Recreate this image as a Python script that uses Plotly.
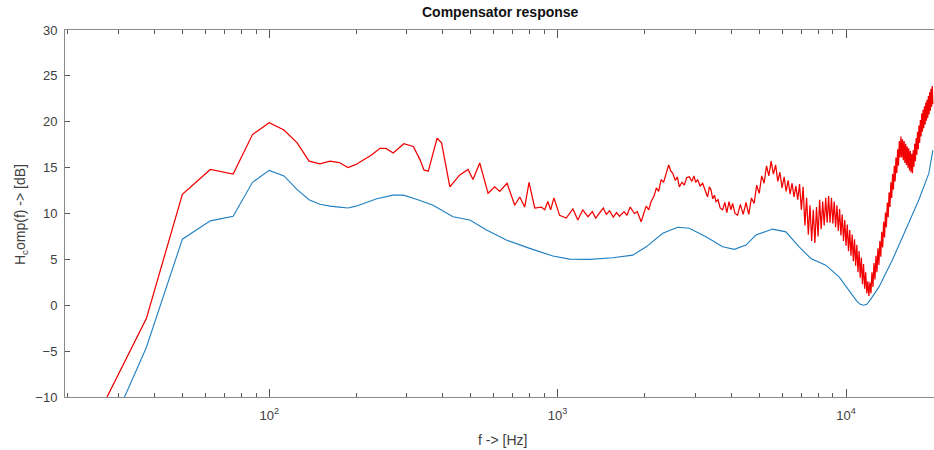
import plotly.graph_objects as go

# ---- smoothed compensator magnitude (Hz, dB) ----
blue_freq = [25, 37.5, 50, 62.5, 75, 87.5, 100, 112.5, 125, 137.5, 150, 162.5, 175, 187.5, 200,
             236, 269, 292, 324, 361, 370, 434, 496, 567, 664, 800, 963, 1100, 1290, 1554, 1822,
             2028, 2315, 2609, 2862, 3269, 3733, 4099, 4498, 4870, 5559, 6184, 6877, 7548,
             8508, 9458, 10515, 10900, 11200, 11500, 11800, 12200, 13010, 14460, 16090, 17890,
             19380, 20000]
blue_db = [-17.2, -4.6, 7.2, 9.2, 9.7, 13.4, 14.7, 14.1, 12.6, 11.5, 11.0, 10.8, 10.7, 10.6, 10.8,
           11.6, 12.0, 12.0, 11.55, 11.04, 10.9, 9.65, 9.29, 8.2, 7.1, 6.2, 5.36, 5.03, 5.0, 5.17, 5.46,
           6.37, 7.84, 8.5, 8.4, 7.46, 6.37, 6.09, 6.56, 7.65, 8.3, 8.0, 6.37, 5.1,
           4.37, 3.1, 1.09, 0.45, 0.1, 0.0, 0.1, 0.7, 2.0, 4.9, 8.2, 11.5,
           14.4, 16.9]

# ---- raw compensator magnitude, low/mid band (Hz, dB) ----
red_freq = [25, 37.5, 50, 62.5, 75, 87.5, 100, 112.5, 125, 137.5, 150, 162.5, 175, 187.5, 200,
            227, 242, 254, 269, 293, 316, 333, 344, 356, 382, 396, 423, 458, 489, 509, 537,
            574, 605, 630, 668, 710, 739, 769, 796, 833, 878, 902, 925, 946, 971, 1016, 1071,
            1130, 1175, 1223, 1274, 1320, 1355, 1397, 1440, 1475, 1514, 1560, 1600, 1639, 1700,
            1740, 1785, 1847, 1890, 1948, 2028, 2070, 2110, 2160, 2200, 2240, 2285, 2330, 2377,
            2427, 2470, 2506, 2560, 2600, 2643, 2700, 2750, 2800, 2862, 2920, 2970, 3010, 3058,
            3120, 3183, 3250, 3311, 3360, 3402, 3450, 3500, 3540, 3600, 3660, 3733, 3800, 3860,
            3930, 3990, 4044, 4120, 4206]
red_db = [-12.5, -1.45, 12.1, 14.8, 14.3, 18.6, 19.9, 19.1, 17.7, 15.7, 15.4, 15.7, 15.55, 15.0, 15.35,
          16.4, 17.1, 17.1, 16.6, 17.6, 17.3, 15.9, 14.75, 14.6, 18.2, 17.7, 12.9, 14.2, 14.8, 13.7, 15.5,
          12.2, 12.9, 12.4, 13.3, 10.9, 11.8, 10.7, 13.4, 10.6, 10.7, 10.4, 11.3, 10.4, 11.7, 9.8, 9.5,
          10.5, 9.3, 10.4, 9.65, 10.2, 9.5, 10.0, 10.6, 9.9, 10.3, 9.6, 10.1, 9.7, 10.2,
          9.8, 10.7, 10.0, 10.2, 9.1, 10.8, 10.4, 11.3, 11.9, 12.8, 12.4, 13.7, 13.4, 14.4,
          15.3, 14.6, 14.4, 13.6, 14.0, 12.9, 13.4, 13.1, 13.9, 14.0, 13.5, 14.1, 13.4, 13.7,
          13.0, 13.3, 12.4, 11.8, 12.9, 12.6, 11.6, 12.0, 11.3, 11.5, 10.6, 10.4, 11.2, 10.1,
          11.3, 10.4, 11.1, 10.0, 9.8]

# ---- raw compensator magnitude, high band with dense ripple (Hz, dB) ----
red_hf_freq = [4300, 4400, 4500, 4600, 4700, 4800, 4900, 5000, 5100, 5200, 5300, 5400, 5500, 5600,
               5700, 5800, 5900, 6000, 6100, 6200, 6300, 6400, 6500, 6600, 6700, 6800, 6900, 7000,
               7100, 7200, 7300, 7400, 7500, 7600, 7700, 7800, 7900, 8000, 8100, 8200, 8300, 8400,
               8500, 8600, 8700, 8800, 8900, 9000, 9100, 9200, 9300, 9400, 9500, 9600, 9700, 9800,
               9900, 10000, 10100, 10200, 10300, 10400, 10500, 10600, 10700, 10800, 10900, 11000,
               11100, 11200, 11300, 11400, 11500, 11600, 11700, 11800, 11900, 12000, 12100, 12200,
               12300, 12400, 12500, 12600, 12700, 12800, 12900, 13000, 13100, 13200, 13300, 13400,
               13500, 13600, 13700, 13800, 13900, 14000, 14100, 14200, 14300, 14400, 14500, 14600,
               14700, 14800, 14900, 15000, 15100, 15200, 15300, 15400, 15500, 15600, 15700, 15800,
               15900, 16000, 16100, 16200, 16300, 16400, 16500, 16600, 16700, 16800, 16900, 17000,
               17100, 17200, 17300, 17400, 17500, 17600, 17700, 17800, 17900, 18000, 18100, 18200,
               18300, 18400, 18500, 18600, 18700, 18800, 18900, 19000, 19100, 19200, 19300, 19400,
               19500, 19600, 19700, 19800, 19900, 20000]
red_hf_db = [11.0, 9.9, 11.2, 9.9, 11.7, 11.1, 13.1, 12.2, 14.1, 13.3, 15.2, 14.1, 15.7, 14.3,
             15.3, 13.5, 14.5, 12.8, 14.0, 12.4, 13.6, 12.1, 13.3, 11.8, 13.0, 11.5, 13.2, 10.4,
             12.9, 8.7, 11.7, 7.7, 10.9, 7.0, 10.4, 6.8, 10.7, 7.5, 11.5, 8.3, 11.3, 8.7,
             11.7, 9.0, 11.9, 9.0, 11.7, 8.9, 11.3, 8.5, 10.9, 8.1, 10.5, 7.6, 9.9, 7.0,
             9.3, 6.5, 8.8, 5.9, 8.2, 5.4, 7.7, 4.8, 7.2, 4.3, 6.6, 3.6,
             5.9, 3.0, 5.2, 2.3, 4.5, 1.8, 3.6, 1.3, 2.6, 1.0, 2.5, 1.3,
             3.6, 2.0, 4.6, 2.8, 5.4, 3.6, 6.2, 4.4, 7.0, 5.3, 8.0, 6.3,
             9.1, 7.4, 10.1, 8.5, 11.2, 9.6, 12.3, 10.7, 13.4, 11.7, 14.3, 12.6,
             15.2, 13.5, 16.1, 14.4, 17.0, 15.2, 17.9, 16.1, 18.4, 16.1, 18.1, 15.8,
             17.9, 15.5, 17.6, 15.3, 17.3, 15.0, 17.1, 14.7, 16.8, 14.5, 16.5, 14.4,
             16.9, 15.1, 17.6, 15.7, 18.2, 16.4, 18.9, 17.0, 19.6, 17.7, 20.2, 18.4,
             20.9, 18.9, 21.3, 19.3, 21.7, 19.7, 22.1, 20.1, 22.4, 20.4, 22.8, 20.8,
             23.2, 21.2, 23.6, 21.6, 23.9, 21.9]

# axis ticks
major_ticks = [100, 1000, 10000]
major_labels = ["10<sup>2</sup>", "10<sup>3</sup>", "10<sup>4</sup>"]
minor_ticks = [20, 30, 40, 50, 60, 70, 80, 90,
               200, 300, 400, 500, 600, 700, 800, 900,
               2000, 3000, 4000, 5000, 6000, 7000, 8000, 9000]
y_ticks = [-10, -5, 0, 5, 10, 15, 20, 25, 30]

FONT = "Liberation Sans, Arial, Helvetica, sans-serif"
AXIS = "#8a8a8a"
TXT = "#404040"

fig = go.Figure()
fig.add_trace(go.Scatter(x=red_freq + red_hf_freq, y=red_db + red_hf_db, mode="lines",
                         line=dict(color="#f20000", width=1.25), hoverinfo="skip",
                         showlegend=False))
fig.add_trace(go.Scatter(x=blue_freq, y=blue_db, mode="lines",
                         line=dict(color="#1f7fc0", width=1.1), hoverinfo="skip",
                         showlegend=False))

fig.update_layout(
    width=934, height=450,
    margin=dict(l=65, r=0, t=30, b=53),
    paper_bgcolor="white", plot_bgcolor="white",
    font=dict(family=FONT, size=13, color=TXT),
    showlegend=False,
)

fig.update_xaxes(
    type="log", range=[1.292, 4.305],
    tickmode="array", tickvals=major_ticks, ticktext=major_labels,
    ticks="inside", ticklen=8, tickwidth=1, tickcolor="#555555",
    minor=dict(tickmode="array", tickvals=minor_ticks, ticks="inside", ticklen=4,
               tickwidth=1, tickcolor="#555555", showgrid=False),
    showline=True, linecolor=AXIS, linewidth=1, mirror="ticks",
    showgrid=False, zeroline=False,
    tickfont=dict(family=FONT, size=13, color=TXT),
    ticklabelstandoff=6,
)
fig.update_yaxes(
    range=[-10, 30], tickmode="array", tickvals=y_ticks,
    ticks="inside", ticklen=5, tickwidth=1, tickcolor="#555555",
    showline=True, linecolor=AXIS, linewidth=1, mirror=False,
    showgrid=False, zeroline=False,
    tickfont=dict(family=FONT, size=13, color=TXT),
    ticklabelstandoff=4,
)

fig.add_annotation(text="<b>Compensator response</b>", xref="paper", yref="paper",
                   x=0.5006, y=(397 - 12) / 367, xanchor="center", yanchor="middle",
                   showarrow=False, font=dict(family=FONT, size=14, color="#111111"))
fig.add_annotation(text="f -> [Hz]", xref="paper", yref="paper",
                   x=(502 - 65) / 869, y=(397 - 440) / 367, xanchor="center", yanchor="middle",
                   showarrow=False, font=dict(family=FONT, size=14, color=TXT))
fig.add_annotation(text="H<sub>c</sub>omp(f) -> [dB]", xref="paper", yref="paper",
                   x=(21 - 65) / 869, y=(397 - 215) / 367, xanchor="center", yanchor="middle",
                   textangle=-90, showarrow=False, font=dict(family=FONT, size=14, color=TXT))

fig.write_html("out.html")
